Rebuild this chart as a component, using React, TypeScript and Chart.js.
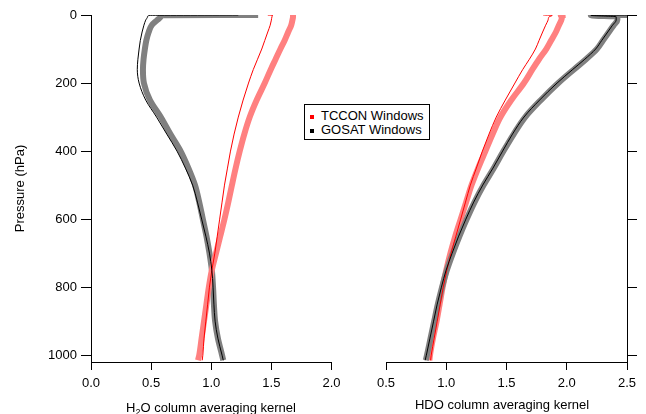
import React, { useEffect, useRef } from "react";
import { Chart, registerables } from "chart.js";

Chart.register(...registerables);

// Pressure levels (hPa) shared by every profile
const pressure = [0, 1, 5, 15, 30, 50, 75, 100, 130, 160, 200, 250, 300, 350, 400, 450, 500, 550, 600, 650, 700, 750, 800, 850, 900, 950, 1000, 1015];

// H2O column averaging kernels
const h2oTcconThick = [1.68, 1.68, 1.68, 1.675, 1.665, 1.64, 1.61, 1.575, 1.535, 1.495, 1.445, 1.378, 1.32, 1.275, 1.237, 1.203, 1.172, 1.142, 1.11, 1.075, 1.04, 1.005, 0.98, 0.96, 0.94, 0.92, 0.9, 0.89];
const h2oTcconThin = [1.47, 1.51, 1.505, 1.5, 1.49, 1.47, 1.445, 1.42, 1.385, 1.35, 1.31, 1.265, 1.225, 1.19, 1.16, 1.135, 1.11, 1.09, 1.07, 1.05, 1.03, 1.005, 0.985, 0.97, 0.955, 0.94, 0.93, 0.925];
const h2oGosatThick = [1.39, 0.6, 0.58, 0.55, 0.505, 0.48, 0.46, 0.448, 0.437, 0.432, 0.44, 0.49, 0.58, 0.66, 0.745, 0.81, 0.865, 0.9, 0.93, 0.96, 0.985, 1.005, 1.015, 1.022, 1.032, 1.055, 1.09, 1.1];
const h2oGosatThin = [1.225, 0.49, 0.47, 0.455, 0.44, 0.425, 0.41, 0.4, 0.39, 0.385, 0.4, 0.455, 0.545, 0.63, 0.715, 0.785, 0.845, 0.885, 0.92, 0.955, 0.985, 1.005, 1.015, 1.022, 1.032, 1.055, 1.09, 1.1];

// HDO column averaging kernels
const hdoTcconThick = [1.99, 1.95, 1.96, 1.955, 1.935, 1.91, 1.87, 1.83, 1.77, 1.715, 1.645, 1.54, 1.45, 1.385, 1.325, 1.265, 1.21, 1.165, 1.12, 1.075, 1.035, 1.0, 0.97, 0.945, 0.92, 0.89, 0.865, 0.86];
const hdoTcconThin = [1.805, 1.88, 1.855, 1.845, 1.825, 1.8, 1.77, 1.74, 1.69, 1.635, 1.57, 1.49, 1.415, 1.355, 1.3, 1.25, 1.2, 1.16, 1.12, 1.08, 1.04, 1.005, 0.975, 0.95, 0.925, 0.9, 0.875, 0.87];
const hdoGosatThick = [2.5, 2.2, 2.42, 2.42, 2.39, 2.35, 2.3, 2.25, 2.16, 2.06, 1.93, 1.785, 1.655, 1.56, 1.475, 1.395, 1.31, 1.235, 1.17, 1.11, 1.055, 1.005, 0.965, 0.93, 0.9, 0.87, 0.84, 0.83];
const hdoGosatThin = [2.5, 2.2, 2.41, 2.41, 2.38, 2.34, 2.29, 2.24, 2.15, 2.05, 1.92, 1.775, 1.645, 1.55, 1.468, 1.388, 1.303, 1.228, 1.163, 1.103, 1.049, 0.999, 0.96, 0.925, 0.895, 0.865, 0.835, 0.825];

// Tick values
const pressureTicks = [0, 200, 400, 600, 800, 1000];
const h2oTicks = [0, 0.5, 1.0, 1.5, 2.0];
const hdoTicks = [0.5, 1.0, 1.5, 2.0, 2.5];

const legendLabels = ["TCCON Windows", "GOSAT Windows"];
const pressureTitle = "Pressure (hPa)";

const W = 646;
const H = 414;
const FONT_FAMILY = "'Liberation Sans', Arial, Helvetica, sans-serif";

const pts = (vals: number[]) => vals.map((v, i) => ({ x: v, y: pressure[i] }));

function ds(vals: number[], color: string, width: number, order: number) {
  return {
    data: pts(vals),
    showLine: true,
    borderColor: color,
    backgroundColor: color,
    borderWidth: width,
    pointRadius: 0,
    pointHoverRadius: 0,
    cubicInterpolationMode: "monotone",
    indexAxis: "y",
    fill: false,
    order,
    borderJoinStyle: "round",
    borderCapStyle: "butt",
  };
}

function makeConfig(side: "left" | "right", datasets: any[], xMin: number, xMax: number, xTicks: number[]): any {
  const font = { family: FONT_FAMILY, size: 13 };
  const padding =
    side === "left"
      ? { left: 0, right: W - 331.5, top: 15, bottom: 0 }
      : { left: 386, right: 0, top: 15, bottom: 0 };
  return {
    type: "scatter",
    data: { datasets },
    options: {
      animation: false,
      responsive: false,
      maintainAspectRatio: false,
      indexAxis: "y",
      events: [],
      layout: { padding },
      plugins: { legend: { display: false }, tooltip: { enabled: false }, title: { display: false } },
      scales: {
        x: {
          type: "linear",
          position: "bottom",
          min: xMin,
          max: xMax,
          afterBuildTicks: (s: any) => {
            s.ticks = xTicks.map((v) => ({ value: v }));
          },
          afterFit: (s: any) => {
            s.height = H - 362;
          },
          ticks: {
            color: "#000",
            font,
            padding: 6,
            maxRotation: 0,
            autoSkip: false,
            callback: (v: any) => Number(v).toFixed(1),
          },
          grid: { drawOnChartArea: false, drawTicks: true, tickLength: 8, tickColor: "#000", tickWidth: 1 },
          border: { display: true, color: "#000", width: 1 },
        },
        y: {
          type: "linear",
          position: side,
          min: 0,
          max: 1020,
          reverse: true,
          afterBuildTicks: (s: any) => {
            s.ticks = pressureTicks.map((v) => ({ value: v }));
          },
          afterFit: (s: any) => {
            s.width = side === "left" ? 91 : W - 627;
          },
          title: {
            display: side === "left",
            text: pressureTitle,
            color: "#000",
            font,
            padding: { top: 13, bottom: 0 },
          },
          ticks: {
            display: side === "left",
            color: "#000",
            font,
            padding: 4,
            autoSkip: false,
            callback: (v: any) => String(v),
          },
          grid: { drawOnChartArea: false, drawTicks: true, tickLength: 10, tickColor: "#000", tickWidth: 1 },
          border: { display: true, color: "#000", width: 1 },
        },
      },
    },
  };
}

export default function App() {
  const leftRef = useRef<HTMLCanvasElement>(null);
  const rightRef = useRef<HTMLCanvasElement>(null);

  useEffect(() => {
    const RED_LIGHT = "#ff8080";
    const GREY = "#808080";
    const left = new Chart(
      leftRef.current as HTMLCanvasElement,
      makeConfig(
        "left",
        [
          ds(h2oGosatThin, "#000000", 1, 0),
          ds(h2oTcconThin, "#ff0000", 1, 1),
          ds(h2oTcconThick, RED_LIGHT, 6, 2),
          ds(h2oGosatThick, GREY, 6, 3),
        ],
        0,
        2,
        h2oTicks
      )
    );
    const right = new Chart(
      rightRef.current as HTMLCanvasElement,
      makeConfig(
        "right",
        [
          ds(hdoGosatThin, "#000000", 1, 0),
          ds(hdoTcconThin, "#ff0000", 1, 1),
          ds(hdoGosatThick, GREY, 6, 2),
          ds(hdoTcconThick, RED_LIGHT, 6, 3),
        ],
        0.5,
        2.5,
        hdoTicks
      )
    );
    return () => {
      left.destroy();
      right.destroy();
    };
  }, []);

  const textStyle: React.CSSProperties = {
    position: "absolute",
    fontFamily: FONT_FAMILY,
    fontSize: 13,
    lineHeight: "16px",
    color: "#000",
    whiteSpace: "nowrap",
  };

  return (
    <div style={{ position: "absolute", left: 0, top: 0, width: W, height: H, background: "#fff", overflow: "hidden" }}>
      <canvas ref={leftRef} width={W} height={H} style={{ position: "absolute", left: 0, top: 0 }} />
      <canvas ref={rightRef} width={W} height={H} style={{ position: "absolute", left: 0, top: 0 }} />

      <div style={{ ...textStyle, left: 211 - 100, top: 400, width: 200, textAlign: "center" }}>
        H<sub style={{ fontSize: 9, lineHeight: 0, verticalAlign: -3 }}>2</sub>O column averaging kernel
      </div>
      <div style={{ ...textStyle, left: 502 - 100, top: 397, width: 200, textAlign: "center" }}>
        HDO column averaging kernel
      </div>

      <div
        style={{
          position: "absolute",
          left: 304,
          top: 104,
          width: 126,
          height: 36,
          boxSizing: "border-box",
          border: "1px solid #000",
          background: "#fff",
        }}
      >
        {legendLabels.map((label, i) => (
          <div key={label} style={{ ...textStyle, left: 0, top: 3 + i * 14, width: 124, height: 16 }}>
            <span
              style={{
                position: "absolute",
                left: 5,
                top: 7,
                width: 4,
                height: 4,
                background: i === 0 ? "#ff0000" : "#000000",
              }}
            />
            <span style={{ position: "absolute", left: 16, top: 0 }}>{label}</span>
          </div>
        ))}
      </div>
    </div>
  );
}
